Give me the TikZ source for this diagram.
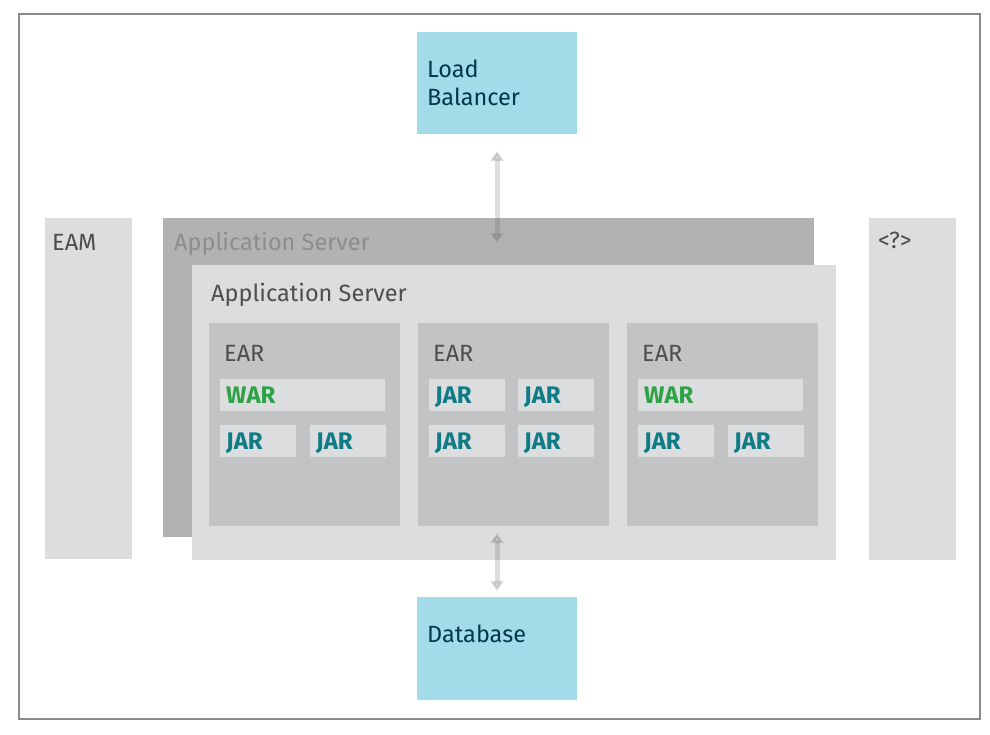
\documentclass[tikz,border=0pt]{standalone}
\usepackage{fontspec}
\setmainfont{Fira Sans}
\usetikzlibrary{arrows.meta}
\definecolor{PanelLight}{HTML}{DCDDDF}
\definecolor{PanelMid}{HTML}{C2C3C5}
\definecolor{PanelDark}{HTML}{B1B2B4}
\definecolor{LbBlue}{HTML}{A3DBE9}
\definecolor{LbText}{HTML}{00384D}
\definecolor{DarkText}{HTML}{4D4D4F}
\definecolor{FaintText}{HTML}{8C8D8F}
\definecolor{WarGreen}{HTML}{2EA346}
\definecolor{JarTeal}{HTML}{0E7B86}
\definecolor{FrameGray}{HTML}{8A8A8A}
\definecolor{ArrowGray}{HTML}{545557}

\begin{document}
\begin{tikzpicture}[x=1pt,y=-1pt,
    box/.style={anchor=north west,inner sep=0pt,outer sep=0pt},
    txt/.style={anchor=base west,inner sep=0pt,text=DarkText,font=\fontsize{23.5}{28}\selectfont},
    tag/.style={txt,font=\fontsize{24}{28}\selectfont\bfseries},
    link/.style={line width=5pt,ArrowGray,opacity=0.2,{Triangle[width=13pt,length=10pt]}-{Triangle[width=13pt,length=10pt]}}]
  \useasboundingbox (0,0) rectangle (990,734);
  \node[box,draw=FrameGray,line width=1.2pt,minimum width=961pt,minimum height=705pt] (Frame) at (19,14) {};

  \node[box,fill=LbBlue,minimum width=160pt,minimum height=102pt] (Lb) at (417,32) {};
  \node[txt,text=LbText,align=left] at ([shift={(10,73)}]Lb.north west) {Load\\Balancer};
  \node[box,fill=LbBlue,minimum width=160pt,minimum height=103pt] (Db) at (417,597) {};
  \node[txt,text=LbText] at ([shift={(10,45)}]Db.north west) {Database};

  \node[box,fill=PanelLight,minimum width=87pt,minimum height=341pt] (Eam) at (45,218) {};
  \node[txt] at ([shift={(7,32)}]Eam.north west) {EAM};
  \node[box,fill=PanelLight,minimum width=87pt,minimum height=342pt] (Unk) at (869,218) {};
  \node[txt] at ([shift={(9,30)}]Unk.north west) {<?>};

  \node[box,fill=PanelDark,minimum width=651pt,minimum height=319pt] (SrvBack) at (163,218) {};
  \node[txt,text=FaintText] at ([shift={(11,32)}]SrvBack.north west) {Application Server};
  \node[box,fill=PanelLight,minimum width=644pt,minimum height=295pt] (SrvFront) at (192,265) {};
  \node[txt] at ([shift={(19,36)}]SrvFront.north west) {Application Server};

  \foreach \i/\x in {1/209,2/418,3/627}{
    \node[box,fill=PanelMid,minimum width=191pt,minimum height=203pt] (Ear\i) at (\x,323) {};
    \node[txt] at ([shift={(15,38)}]Ear\i.north west) {EAR};
  }
  \foreach \i in {1,3}{
    \node[box,fill=PanelLight,minimum width=165pt,minimum height=32pt] (War\i) at ([shift={(11,56)}]Ear\i.north west) {};
    \node[tag,text=WarGreen] at ([shift={(6,24)}]War\i.north west) {WAR};
  }
  \foreach \i/\dx/\dy [count=\n] in {1/11/102,1/101/102,2/11/56,2/100/56,2/11/102,2/100/102,3/11/102,3/101/102}{
    \node[box,fill=PanelLight,minimum width=76pt,minimum height=32pt] (Jar\n) at ([shift={(\dx,\dy)}]Ear\i.north west) {};
    \node[tag,text=JarTeal] at ([shift={(6,24)}]Jar\n.north west) {JAR};
  }

  \draw[link,shorten <=17pt,shorten >=-25pt] (Lb.south) -- (Lb.south |- SrvBack.north);
  \draw[link,shorten <=6pt,shorten >=7pt] (Db.north) -- (Db.north |- Ear2.south);
\end{tikzpicture}
\end{document}
